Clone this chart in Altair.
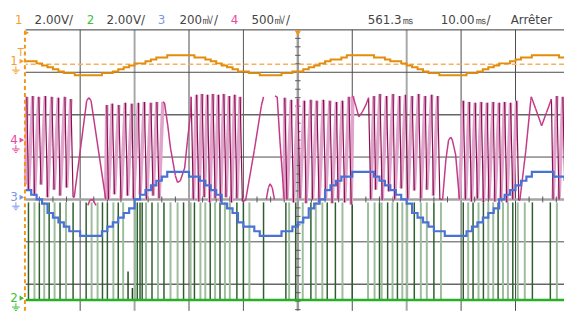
import altair as alt
import pandas as pd

# ---------------- data (units: graticule divisions; x 0 = left edge, y 0 = centre line) -------------
t_div = [round(0.1 * k, 1) for k in range(100)]          # sample instants of the stepped traces

ch1_div = [3.26, 3.26, 3.21, 3.16, 3.12, 3.07, 3.02, 2.98, 2.98, 2.93,
           2.93, 2.93, 2.93, 2.93, 2.98, 2.98, 3.02, 3.07, 3.12, 3.16,
           3.21, 3.21, 3.26, 3.30, 3.35, 3.35, 3.40, 3.40, 3.40, 3.40,
           3.40, 3.35, 3.35, 3.30, 3.26, 3.21, 3.16, 3.12, 3.07, 3.02,
           3.02, 2.98, 2.98, 2.93, 2.93, 2.93, 2.93, 2.98, 2.98, 3.02,
           3.02, 3.07, 3.12, 3.16, 3.21, 3.26, 3.30, 3.30, 3.35, 3.40,
           3.40, 3.40, 3.40, 3.40, 3.35, 3.35, 3.30, 3.26, 3.26, 3.21,
           3.16, 3.12, 3.07, 3.02, 2.98, 2.98, 2.93, 2.93, 2.93, 2.93,
           2.93, 2.98, 2.98, 3.02, 3.07, 3.12, 3.16, 3.21, 3.21, 3.26,
           3.30, 3.35, 3.35, 3.40, 3.40, 3.40, 3.40, 3.40, 3.35, 3.35]

ch3_div = [0.22, 0.11, 0.00, -0.10, -0.32, -0.43, -0.54, -0.64, -0.75, -0.75,
           -0.86, -0.86, -0.86, -0.86, -0.75, -0.64, -0.54, -0.43, -0.32, -0.21,
           0.00, 0.11, 0.22, 0.33, 0.44, 0.54, 0.65, 0.65, 0.65, 0.65,
           0.54, 0.54, 0.44, 0.33, 0.22, 0.11, -0.10, -0.21, -0.32, -0.54,
           -0.64, -0.64, -0.75, -0.86, -0.86, -0.86, -0.86, -0.75, -0.75, -0.64,
           -0.54, -0.43, -0.21, -0.10, 0.00, 0.22, 0.33, 0.44, 0.54, 0.54,
           0.65, 0.65, 0.65, 0.65, 0.54, 0.44, 0.33, 0.22, 0.11, 0.00,
           -0.10, -0.32, -0.43, -0.54, -0.64, -0.75, -0.75, -0.86, -0.86, -0.86,
           -0.86, -0.75, -0.64, -0.54, -0.43, -0.32, -0.21, 0.00, 0.11, 0.22,
           0.33, 0.44, 0.54, 0.65, 0.65, 0.65, 0.65, 0.54, 0.54, 0.44]

ch1_trig_level = 3.19
ch2_base = -2.37
pulse_top = -0.07
green_dark_x = [0.05, 0.25, 0.43, 0.63, 0.87, 1.11, 1.41, 1.50, 1.70, 2.05, 2.10, 2.14, 2.32, 2.54,
                2.90, 3.10, 3.39, 3.57, 3.88, 4.00, 4.37, 4.78, 4.96, 5.24, 5.54, 5.69, 6.00, 6.50,
                6.65, 6.83, 7.14, 7.50, 8.04, 8.22, 8.41, 8.68, 8.95, 9.31, 9.64]
green_light_x = [0.16, 0.34, 0.53, 0.74, 1.21, 1.32, 1.61, 1.79, 2.01, 2.21, 2.43, 2.66, 2.79, 3.03,
                 3.21, 3.30, 3.48, 3.66, 3.75, 4.11, 4.84, 5.09, 5.33, 5.45, 5.82, 6.29, 6.41, 6.54,
                 6.74, 6.92, 7.01, 7.26, 7.37, 7.63, 8.13, 8.32, 8.50, 8.59, 8.77, 8.86, 9.04, 9.17, 9.76]
green_short_x = [1.88, 1.96]
green_short_top = [-1.70, -2.09]

# channel 4 trace, read as vertex runs (zig = aliased dense part, arc = slow part)
zigA_x = [0.00, 0.02, 0.05, 0.13, 0.16, 0.24, 0.28, 0.36, 0.40, 0.48, 0.52, 0.60, 0.63, 0.72, 0.75, 0.83, 0.87]
zigA_y = [0.35, 2.42, 0.23, 2.44, 0.09, 2.42, 0.35, 2.44, 0.05, 2.42, 0.23, 2.40, 0.09, 2.42, 0.28, 2.37, 0.05]
arcA_x = [0.87, 0.89, 1.12, 1.16, 1.20, 1.47]
arcA_y = [0.05, 0.05, 2.33, 2.40, 2.33, 0.00]
arcA2_x = [1.14, 1.18, 1.23, 1.29]
arcA2_y = [-0.14, -0.02, 0.00, -0.14]
zigB_x = [1.47, 1.49, 1.52, 1.59, 1.63, 1.71, 1.75, 1.83, 1.87, 1.95, 1.98, 2.07, 2.10, 2.18, 2.22, 2.30, 2.34, 2.41, 2.45, 2.52]
zigB_y = [0.00, 2.23, 0.00, 2.26, 0.12, 2.23, 0.00, 2.28, 0.09, 2.26, 0.00, 2.28, 0.12, 2.30, 0.00, 2.28, 0.09, 2.30, 0.02, 2.30]
arcB_x = [2.52, 2.55, 2.61, 2.66, 2.75, 2.79, 2.84, 2.92, 2.97, 3.03, 3.04]
arcB_y = [2.30, 2.28, 1.74, 1.21, 0.56, 0.40, 0.44, 0.74, 1.37, 2.05, 2.42]
zigC_x = [3.04, 3.08, 3.14, 3.18, 3.24, 3.28, 3.34, 3.38, 3.44, 3.48, 3.54, 3.58, 3.64, 3.68, 3.74, 3.78, 3.84, 3.88, 3.94, 3.98]
zigC_y = [2.42, 0.00, 2.47, -0.05, 2.49, 0.05, 2.47, -0.07, 2.49, 0.02, 2.47, -0.05, 2.49, 0.05, 2.44, -0.07, 2.47, 0.02, 2.42, -0.05]
arcC_x = [3.98, 4.04, 4.20, 4.33, 4.37]
arcC_y = [-0.05, -0.02, 1.16, 2.21, 2.42]
arcC2_x = [4.42, 4.46, 4.49, 4.53, 4.57]
arcC2_y = [0.00, 0.28, 0.37, 0.28, 0.00]
arcC3_x = [4.58, 4.62, 4.67, 4.75]
arcC3_y = [2.44, 2.42, 1.40, 0.00]
zigD_x = [4.75, 4.76, 4.80, 4.88, 4.92, 5.00, 5.04, 5.12, 5.15, 5.24, 5.27, 5.35, 5.39, 5.47, 5.51, 5.59, 5.63, 5.71, 5.74, 5.82, 5.86, 5.94, 5.98, 6.01]
zigD_y = [0.00, 2.40, 0.00, 2.35, -0.07, 2.37, 0.02, 2.33, -0.09, 2.35, 0.00, 2.33, -0.07, 2.35, 0.02, 2.33, -0.09, 2.30, 0.00, 2.33, -0.07, 2.42, -0.12, 2.44]
arcD_x = [6.01, 6.07, 6.12, 6.18, 6.25, 6.30]
arcD_y = [2.44, 2.19, 1.95, 2.05, 2.23, 2.40]
zigE_x = [6.30, 6.34, 6.40, 6.43, 6.51, 6.55, 6.63, 6.67, 6.75, 6.78, 6.87, 6.90, 6.98, 7.02, 7.10, 7.14, 7.22, 7.26, 7.34, 7.37, 7.46, 7.49, 7.57, 7.61]
zigE_y = [2.40, 0.00, 2.44, 0.23, 2.49, -0.02, 2.44, 0.19, 2.49, 0.00, 2.44, 0.26, 2.47, 0.00, 2.44, 0.21, 2.49, 0.02, 2.44, 0.23, 2.47, 0.09, 2.44, 0.00]
arcE_x = [7.61, 7.66, 7.72, 7.77, 7.81, 7.84, 7.90, 7.97]
arcE_y = [0.00, 0.00, 0.93, 1.40, 1.47, 1.40, 1.05, 0.00]
zigF_x = [7.97, 8.04, 8.08, 8.15, 8.19, 8.26, 8.30, 8.37, 8.41, 8.48, 8.51, 8.59, 8.62, 8.70, 8.73, 8.80, 8.84, 8.91, 8.95, 9.02, 9.06]
zigF_y = [0.00, 2.33, 0.00, 2.30, -0.05, 2.28, 0.02, 2.30, -0.07, 2.28, 0.00, 2.30, -0.05, 2.28, 0.02, 2.30, -0.07, 2.28, 0.00, 2.33, -0.02]
arcF_x = [9.06, 9.08, 9.19, 9.28, 9.29, 9.37, 9.48, 9.57, 9.66]
arcF_y = [-0.02, -0.02, 1.16, 2.33, 2.42, 2.14, 1.74, 2.05, 2.37]
zigG_x = [9.66, 9.69, 9.76, 9.80, 9.87, 9.91]
zigG_y = [2.37, 0.00, 2.44, 0.00, 2.42, 0.00]

marker_labels = ["1", "4", "3", "2"]
marker_levels = [3.26, 1.40, 0.05, -2.33]
marker_colors = ["#F5A02C", "#E8489E", "#7A96E6", "#3CBF3C"]

header_texts = ["1", "2.00V/", "2", "2.00V/", "3", "200㎷/", "4", "500㎷/", "561.3㎳", "10.00㎳/", "Arrêter"]
header_colors = ["#F5A02C", "#444444", "#3CBF3C", "#444444", "#7A96E6", "#444444",
                 "#E8489E", "#444444", "#444444", "#444444", "#444444"]

# ---------------- layout ----------------
XMAX, YMIN, YMAX = 9.891, -2.628, 4.0
W, H = 546, 285
header_px = [-11, 9, 62, 82, 134, 156, 208, 229, 347, 421, 492]

xs = alt.Scale(domain=[0, XMAX], nice=False, zero=False)
ys = alt.Scale(domain=[YMIN, YMAX], nice=False, zero=False)


def ex(f="x"):
    return alt.X(f, type="quantitative", scale=xs, axis=None)


def ey(f="y"):
    return alt.Y(f, type="quantitative", scale=ys, axis=None)


layers = []

# graticule
vg = pd.DataFrame({"x": [1, 2, 3, 4, 6, 7, 8, 9],
                   "c": ["#4a4a4a", "#a8a8a8", "#4a4a4a", "#555555", "#4a4a4a", "#a8a8a8", "#4a4a4a", "#4a4a4a"],
                   "w": [1, 2, 1, 1, 1, 2, 1, 1]})
layers.append(alt.Chart(vg).mark_rule().encode(
    x=ex(), color=alt.Color("c:N", scale=None), strokeWidth=alt.StrokeWidth("w:Q", scale=None)))
hg = pd.DataFrame({"y": [4, 3, 2, 1, -1, -2],
                   "c": ["#3a3a3a", "#4a4a4a", "#666666", "#4a4a4a", "#4a4a4a", "#666666"],
                   "w": [1, 1, 1.5, 1, 1, 1.5]})
layers.append(alt.Chart(hg).mark_rule().encode(
    y=ey(), color=alt.Color("c:N", scale=None), strokeWidth=alt.StrokeWidth("w:Q", scale=None)))
layers.append(alt.Chart(pd.DataFrame({"x": [5]})).mark_rule(color="#9c9c9c", strokeWidth=2.5).encode(x=ex()))
layers.append(alt.Chart(pd.DataFrame({"y": [0]})).mark_rule(color="#a4a4a4", strokeWidth=2.5).encode(y=ey()))

tick_x = [i * 0.25 for i in range(40) if i % 4]
tick_y = [j * 0.2 for j in range(-13, 20) if j % 5]
layers.append(alt.Chart(pd.DataFrame({"x": tick_x, "y": -0.07, "y2": 0.07})).mark_rule(
    color="#555555", strokeWidth=1).encode(x=ex(), y=ey(), y2="y2"))
layers.append(alt.Chart(pd.DataFrame({"y": tick_y, "x": 4.95, "x2": 5.05})).mark_rule(
    color="#555555", strokeWidth=1).encode(y=ey(), x=ex(), x2="x2"))

# channel 2 : pulses
layers.append(alt.Chart(pd.DataFrame({"x": green_light_x, "y": ch2_base, "y2": pulse_top})).mark_rule(
    color="#9dbd9d", strokeWidth=2).encode(x=ex(), y=ey(), y2="y2"))
layers.append(alt.Chart(pd.DataFrame({"x": green_dark_x, "y": ch2_base, "y2": pulse_top})).mark_rule(
    color="#2d5e2d", strokeWidth=1.5).encode(x=ex(), y=ey(), y2="y2"))
layers.append(alt.Chart(pd.DataFrame({"x": green_short_x, "y": ch2_base, "y2": green_short_top})).mark_rule(
    color="#1f4a1f", strokeWidth=1.5).encode(x=ex(), y=ey(), y2="y2"))
layers.append(alt.Chart(pd.DataFrame({"y": [ch2_base]})).mark_rule(
    color="#26b026", strokeWidth=2.5).encode(y=ey()))

# channel 4 : segments
pieces = [("zig", zigA_x, zigA_y), ("arc", arcA_x, arcA_y), ("arc", arcA2_x, arcA2_y),
          ("zig", zigB_x, zigB_y), ("arc", arcB_x, arcB_y), ("zig", zigC_x, zigC_y),
          ("arc", arcC_x, arcC_y), ("arc", arcC2_x, arcC2_y), ("arc", arcC3_x, arcC3_y),
          ("zig", zigD_x, zigD_y), ("arc", arcD_x, arcD_y), ("zig", zigE_x, zigE_y),
          ("arc", arcE_x, arcE_y), ("zig", zigF_x, zigF_y), ("arc", arcF_x, arcF_y),
          ("zig", zigG_x, zigG_y)]
rows = []
for kind, px, py in pieces:
    for i in range(len(px) - 1):
        if kind == "arc":
            k = "arc"
        else:
            k = "fall" if py[i + 1] < py[i] else "rise"
        rows.append({"x": px[i], "y": py[i], "x2": px[i + 1], "y2": py[i + 1], "k": k})
seg = pd.DataFrame(rows)
for k, col, w in [("rise", "#e0a4cc", 3.6), ("fall", "#8b1050", 1.2), ("arc", "#c43a86", 1.5)]:
    layers.append(alt.Chart(seg[seg.k == k]).mark_rule(color=col, strokeWidth=w).encode(
        x=ex(), y=ey(), x2="x2", y2="y2"))

# channel 1
layers.append(alt.Chart(pd.DataFrame({"y": [ch1_trig_level]})).mark_rule(
    color="#f6b060", strokeWidth=1.5, strokeDash=[5, 3]).encode(y=ey()))
layers.append(alt.Chart(pd.DataFrame({"x": t_div, "y": ch1_div})).mark_line(
    interpolate="step-after", color="#e38d0c", strokeWidth=2).encode(x=ex(), y=ey()))

# channel 3
layers.append(alt.Chart(pd.DataFrame({"x": t_div, "y": ch3_div})).mark_line(
    interpolate="step-after", color="#4a72d4", strokeWidth=2.2).encode(x=ex(), y=ey()))

# trigger position (left edge) and top marker
layers.append(alt.Chart(pd.DataFrame({"x": [-0.015], "y": [YMIN], "y2": [YMAX]})).mark_rule(
    color="#f0961a", strokeWidth=2, strokeDash=[4, 3]).encode(x=ex(), y=ey(), y2="y2"))
layers.append(alt.Chart(pd.DataFrame({"x": [5], "y": [3.92]})).mark_point(
    shape="triangle-down", filled=True, color="#f0961a", size=40, opacity=1).encode(x=ex(), y=ey()))
layers.append(alt.Chart(pd.DataFrame({"x": [0.02], "y": [3.93]})).mark_point(
    shape="triangle-right", filled=True, color="#f0961a", size=25, opacity=1).encode(x=ex(), y=ey()))

# channel markers on the left
mk = pd.DataFrame({"lab": marker_labels, "y": marker_levels, "c": marker_colors})
layers.append(alt.Chart(mk).mark_text(align="right", baseline="middle", fontSize=12,
                                      font="DejaVu Sans").encode(
    x=alt.value(-8), y=ey(), text="lab:N", color=alt.Color("c:N", scale=None)))
layers.append(alt.Chart(mk).mark_point(shape="triangle-right", filled=True, size=28, opacity=1).encode(
    x=alt.value(-4), y=ey(), color=alt.Color("c:N", scale=None)))
ground = "M0,-1L0,0M-1,0L1,0M-0.6,0.45L0.6,0.45M-0.25,0.9L0.25,0.9"
layers.append(alt.Chart(mk).mark_point(shape=ground, filled=False, size=60, strokeWidth=1, opacity=1).encode(
    x=alt.value(-10), y=ey(), yOffset=alt.value(9), color=alt.Color("c:N", scale=None)))
layers.append(alt.Chart(pd.DataFrame({"y": [3.45]})).mark_text(text="T", fontSize=10, color="#F5A02C",
                                                              font="DejaVu Sans").encode(
    x=alt.value(-5), y=ey()))

# header
for txt, col, hx in zip(header_texts, header_colors, header_px):
    layers.append(alt.Chart(pd.DataFrame({"t": [txt]})).mark_text(
        align="left", baseline="alphabetic", fontSize=12, font="DejaVu Sans", color=col).encode(
        x=alt.value(hx), y=alt.value(-6), text="t:N"))

chart = alt.layer(*layers).properties(
    width=W, height=H, autosize="none",
    padding={"left": 18, "top": 20, "right": 0, "bottom": 0},
    background="white",
).configure_view(stroke=None)

chart.save("out.html", embed_options={"renderer": "svg", "actions": False})
